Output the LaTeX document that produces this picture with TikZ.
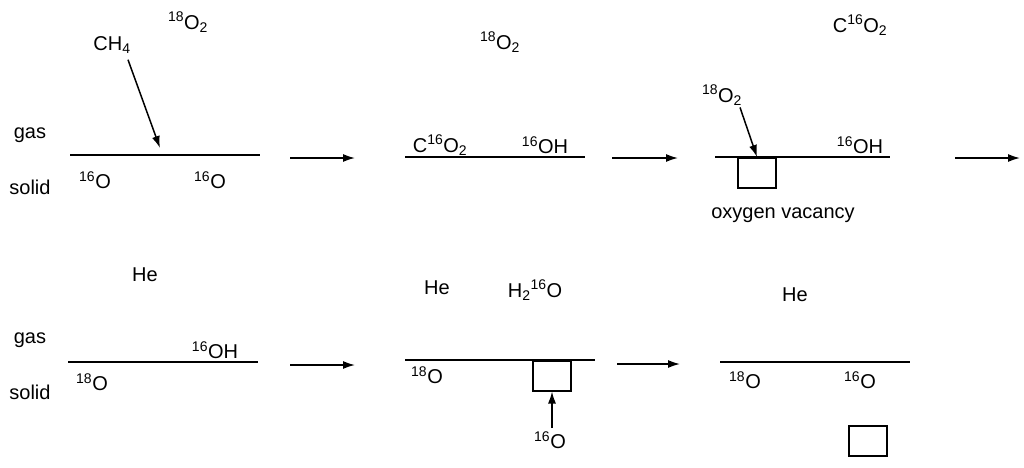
\documentclass[tikz,border=0pt]{standalone}
\usepackage{fontspec}
\usetikzlibrary{arrows.meta}
\setmainfont{Liberation Sans}
\newcommand{\sps}[1]{\textsuperscript{#1}}
\newcommand{\sbs}[1]{\textsubscript{#1}}
\begin{document}
\begin{tikzpicture}[x=1pt,y=-1pt,
  lbl/.style={font=\fontsize{20}{22}\selectfont,inner sep=0pt},
  surf/.style={line width=2pt},
  arr/.style={-{Latex[length=12pt,width=8pt]},line width=1.5pt},
  vac/.style={draw,line width=1.5pt,minimum width=38pt,minimum height=30pt,inner sep=0pt}]
\useasboundingbox (0,0) rectangle (1024,467);
% row 1
\node[lbl] (g1) at (30,135) {gas};
\node[lbl] (s1) at (30,187) {solid};
\coordinate (l1a) at (70,155); \coordinate (l1b) at (260,155);
\draw[surf] (l1a) -- (l1b);
\node[lbl] (ch4) at (112,45) {CH\sbs{4}};
\coordinate (ch4t) at (160,148);
\draw[arr] (ch4.south) ++(16,6) coordinate (ch4s) -- (ch4t);
\node[lbl] (o2a) at (188,22) {\sps{18}O\sbs{2}};
\node[lbl] (o16a) at (95,180) {\sps{16}O};
\node[lbl] (o16b) at (210,180) {\sps{16}O};
\coordinate (a1s) at (290,158); \coordinate (a1e) at (355,158);
\draw[arr] (a1s) -- (a1e);
\node[lbl] (o2b) at (500,42) {\sps{18}O\sbs{2}};
\coordinate (l2a) at (405,157); \coordinate (l2b) at (585,157);
\draw[surf] (l2a) -- (l2b);
\node[lbl] (co2a) at (440,145) {C\sps{16}O\sbs{2}};
\node[lbl] (oha) at (545,145) {\sps{16}OH};
\coordinate (a2s) at (612,158); \coordinate (a2e) at (678,158);
\draw[arr] (a2s) -- (a2e);
\node[lbl] (co2b) at (860,25) {C\sps{16}O\sbs{2}};
\node[lbl] (o2c) at (722,95) {\sps{18}O\sbs{2}};
\coordinate (l3a) at (715,157); \coordinate (l3b) at (890,157);
\draw[surf] (l3a) -- (l3b);
\node[vac,anchor=north] (v1) at (757,157) {};
\draw[arr] (o2c.south) ++(18,2) coordinate (o2cs) -- (v1.north);
\node[lbl] (ohb) at (860,145) {\sps{16}OH};
\node[lbl] (ov) at (783,215) {oxygen vacancy};
\coordinate (a3s) at (955,158); \coordinate (a3e) at (1020,158);
\draw[arr] (a3s) -- (a3e);
% row 2
\node[lbl] (he1) at (145,275) {He};
\node[lbl] (g2) at (30,340) {gas};
\node[lbl] (s2) at (30,392) {solid};
\coordinate (l4a) at (68,362); \coordinate (l4b) at (258,362);
\draw[surf] (l4a) -- (l4b);
\node[lbl] (ohc) at (215,350) {\sps{16}OH};
\node[lbl] (o18a) at (92,382) {\sps{18}O};
\coordinate (a4s) at (290,365); \coordinate (a4e) at (355,365);
\draw[arr] (a4s) -- (a4e);
\node[lbl] (he2) at (437,288) {He};
\node[lbl] (h2o) at (535,290) {H\sbs{2}\sps{16}O};
\coordinate (l5a) at (405,360); \coordinate (l5b) at (595,360);
\draw[surf] (l5a) -- (l5b);
\node[lbl] (o18b) at (427,375) {\sps{18}O};
\node[vac,anchor=north] (v2) at (552,360) {};
\node[lbl] (o16c) at (550,440) {\sps{16}O};
\draw[arr] (o16c.north) ++(2,-3) coordinate (o16s) -- (v2.south);
\coordinate (a5s) at (617,364); \coordinate (a5e) at (680,364);
\draw[arr] (a5s) -- (a5e);
\node[lbl] (he3) at (795,295) {He};
\coordinate (l6a) at (720,362); \coordinate (l6b) at (910,362);
\draw[surf] (l6a) -- (l6b);
\node[lbl] (o18c) at (745,380) {\sps{18}O};
\node[lbl] (o16d) at (860,380) {\sps{16}O};
\node[vac] (v3) at (868,441) {};
\end{tikzpicture}
\end{document}
